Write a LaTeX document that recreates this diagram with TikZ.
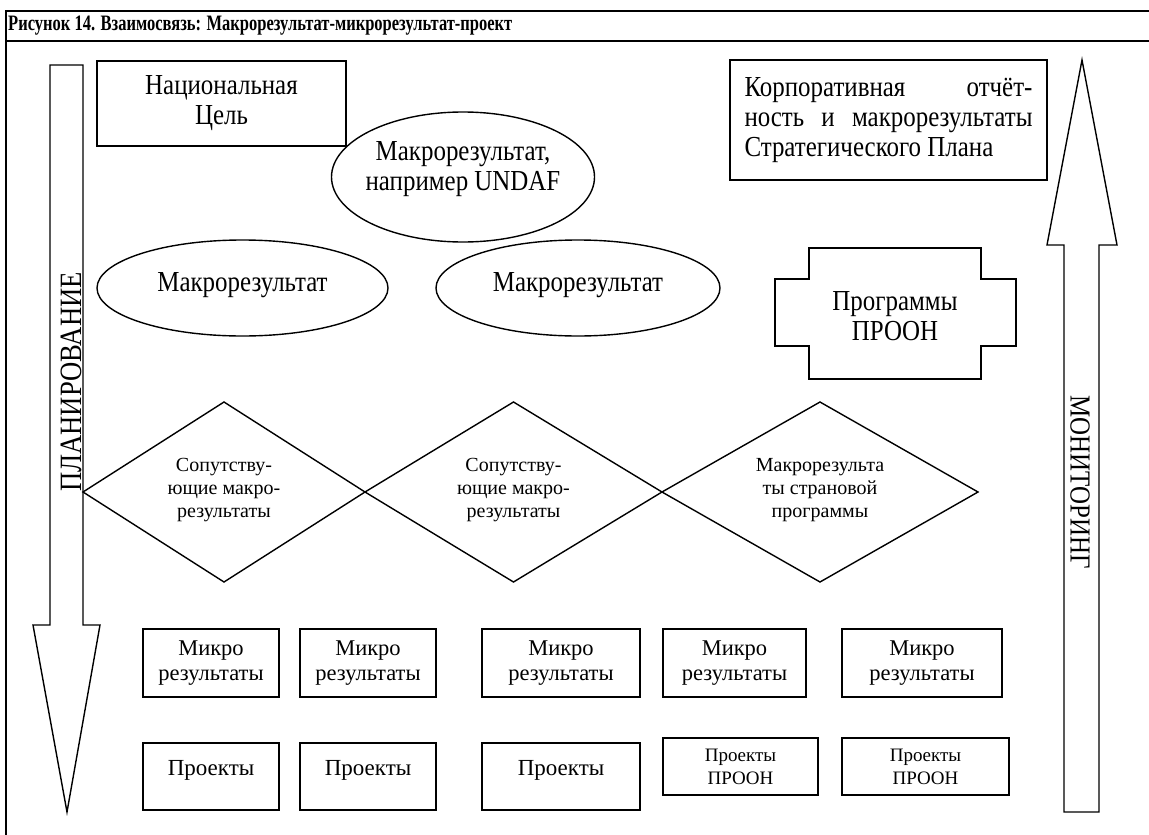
\documentclass[tikz,border=0pt]{standalone}
\usepackage{fontspec}
\setmainfont{Liberation Serif}
% narrowed serif faces, used for the caption and the larger labels
\newfontfamily\narrowserif[FakeStretch=0.86]{Liberation Serif}
\newfontfamily\captionserif[FakeStretch=0.75]{Liberation Serif}
\usetikzlibrary{shapes.geometric}
\begin{document}
\begin{tikzpicture}[x=1pt,y=-1pt,
  frameline/.style={line width=2pt},
  outline/.style={draw=black, line width=1.4pt},
  box/.style={outline, inner sep=0pt, align=center},
  bigtxt/.style={font=\narrowserif\fontsize{29}{30}\selectfont, align=center},
  oval/.style={outline, ellipse, inner sep=0pt},
  midtxt/.style={font=\fontsize{20}{23}\selectfont, align=center},
  microtxt/.style={font=\fontsize{22.5}{25}\selectfont, align=center},
  projtxt/.style={font=\fontsize{23}{26}\selectfont, align=center},
  smalltxt/.style={font=\fontsize{19}{23}\selectfont, align=center},
  vlabel/.style={inner sep=0pt}]
\useasboundingbox (0,0) rectangle (1149,835);

% frame and caption
\draw[frameline] (1149,11) -- (6,11) -- (6,835);
\draw[frameline] (6,41) -- (1149,41);
\node[anchor=west, inner sep=0pt, font=\captionserif\fontsize{22}{24}\selectfont\bfseries] (title) at (8,26)
  {Рисунок 14. Взаимосвязь: Макрорезультат-микрорезультат-проект};

% planning arrow (down)
\draw[outline, line join=miter] (50,65) -- (83,65) -- (83,625) -- (100,625) -- (67,812)
  -- (33,625) -- (50,625) -- cycle;
\node[vlabel, rotate=90, font=\narrowserif\fontsize{31}{32}\selectfont] (plan) at (71,382) {ПЛАНИРОВАНИЕ};

% monitoring arrow (up)
\draw[outline, line join=miter] (1064,812) -- (1099,812) -- (1099,245) -- (1117,245) -- (1082,60)
  -- (1047,245) -- (1064,245) -- cycle;
\node[vlabel, rotate=-90, font=\narrowserif\fontsize{29}{30}\selectfont] (mon) at (1080,482) {МОНИТОРИНГ};

% top row
\node[box, bigtxt, minimum width=249, minimum height=85] (goal) at (221.5,103.5) {Национальная\\Цель};
\node[box, minimum width=317, minimum height=120, font=\narrowserif\fontsize{29}{30}\selectfont] (corp) at (888.5,120)
  {\parbox{288pt}{\makebox[288pt][s]{Корпоративная\hfill отчёт-}\\
   \makebox[288pt][s]{ность и макрорезультаты}\\
   Стратегического Плана}};
\node[oval, minimum width=263, minimum height=130] (undaf) at (463,177) {};
\node[bigtxt] (undaftxt) at (463,169) {Макрорезультат,\\например UNDAF};

% macro outcomes
\node[oval, minimum width=291, minimum height=96] (macroA) at (242.5,288) {};
\node[bigtxt] (macroAtxt) at (242.5,285) {Макрорезультат};
\node[oval, minimum width=284, minimum height=96] (macroB) at (578,288) {};
\node[bigtxt] (macroBtxt) at (578,285) {Макрорезультат};

% UNDP programmes (stepped box)
\draw[outline] (809,248) -- (981,248) -- (981,279) -- (1016,279) -- (1016,346) -- (981,346)
  -- (981,379) -- (809,379) -- (809,346) -- (775,346) -- (775,279) -- (809,279) -- cycle;
\node[bigtxt] (prog) at (895,316) {Программы\\ПРООН};

% diamonds
\draw[outline] (83,492) -- (224,402) -- (365,492) -- (224,582) -- cycle;
\draw[outline] (365,492) -- (513.5,402) -- (662,492) -- (513.5,582) -- cycle;
\draw[outline] (662,492) -- (820,402) -- (978,492) -- (820,582) -- cycle;
\node[midtxt] (dA) at (224,490) {Сопутству-\\ющие макро-\\результаты};
\node[midtxt] (dB) at (513.5,490) {Сопутству-\\ющие макро-\\результаты};
\node[midtxt] (dC) at (820,490) {Макрорезульта\\ты страновой\\программы};

% micro outcomes
\node[box, microtxt, minimum width=136, minimum height=68] (m1) at (211,663) {Микро\\результаты};
\node[box, microtxt, minimum width=136, minimum height=68] (m2) at (368,663) {Микро\\результаты};
\node[box, microtxt, minimum width=158, minimum height=68] (m3) at (561,663) {Микро\\результаты};
\node[box, microtxt, minimum width=143, minimum height=68] (m4) at (734.5,663) {Микро\\результаты};
\node[box, microtxt, minimum width=160, minimum height=68] (m5) at (922,663) {Микро\\результаты};

% projects
\node[box, minimum width=136, minimum height=67] (p1) at (211,776.5) {};
\node[box, minimum width=136, minimum height=67] (p2) at (368,776.5) {};
\node[box, minimum width=158, minimum height=67] (p3) at (561,776.5) {};
\node[projtxt] (p1txt) at (211,770) {Проекты};
\node[projtxt] (p2txt) at (368,770) {Проекты};
\node[projtxt] (p3txt) at (561,770) {Проекты};
\node[box, smalltxt, minimum width=155, minimum height=57] (p4) at (740.5,766.5) {Проекты\\ПРООН};
\node[box, smalltxt, minimum width=167, minimum height=57] (p5) at (925.5,766.5) {Проекты\\ПРООН};
\end{tikzpicture}
\end{document}
